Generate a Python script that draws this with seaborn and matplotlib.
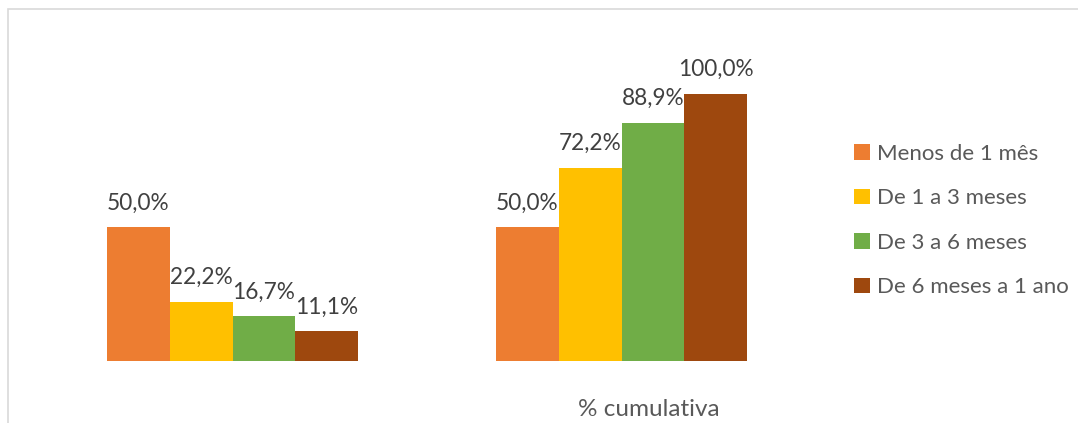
import matplotlib
matplotlib.use("Agg")
import matplotlib.pyplot as plt
import matplotlib.transforms as mtransforms
from matplotlib.patches import Rectangle
import seaborn as sns
import pandas as pd

# Data
groups = ["", "% cumulativa"]
series = ["Menos de 1 mês", "De 1 a 3 meses", "De 3 a 6 meses", "De 6 meses a 1 ano"]
values_pct = [50.0, 22.2, 16.7, 11.1]
values_cum = [50.0, 72.2, 88.9, 100.0]
colors = ["#ED7D31", "#FFC000", "#70AD47", "#9E480E"]

rows = []
for s, v in zip(series, values_pct):
    rows.append({"grupo": groups[0], "serie": s, "valor": v})
for s, v in zip(series, values_cum):
    rows.append({"grupo": groups[1], "serie": s, "valor": v})
df = pd.DataFrame(rows)

sns.set_theme(style="white")
plt.rcParams["font.family"] = ["Lato", "DejaVu Sans"]

W, H = 1078, 423
fig = plt.figure(figsize=(W / 100, H / 100), dpi=100)
ax = fig.add_axes([38 / W, (H - 361) / H, (816 - 38) / W, (361 - 40) / H])

sns.barplot(data=df, x="grupo", y="valor", hue="serie", order=groups,
            hue_order=series, palette=colors, width=0.645, gap=0,
            saturation=1, ax=ax, legend=False, linewidth=0)

ax.set_ylim(0, 120)
ax.set_xlim(-0.5, 1.5)
for sp in ax.spines.values():
    sp.set_visible(False)
ax.set_yticks([])
ax.set_xlabel("")
ax.set_ylabel("")
ax.tick_params(axis="x", length=0, pad=27, labelsize=17.5, labelcolor="#595959")

# Excel places the category label slightly right of the group centre
shift = mtransforms.ScaledTranslation(27 / 100, 0, fig.dpi_scale_trans)
for lbl in ax.get_xticklabels():
    lbl.set_transform(lbl.get_transform() + shift)

for cont in ax.containers:
    ax.bar_label(cont, labels=[f"{b.get_height():.1f}".replace(".", ",") + "%" for b in cont],
                 padding=10, fontsize=16.3, color="#404040")

handles = [Rectangle((0, 0), 1, 1, facecolor=c, edgecolor="none") for c in colors]
fig.legend(handles, series, loc="upper left", bbox_to_anchor=(834 / W, 1 - 124 / H),
           frameon=False, fontsize=16, labelcolor="#595959",
           handlelength=0.7, handleheight=0.7, handletextpad=0.35, labelspacing=1.1)

# chart border (top and left visible)
fig.add_artist(Rectangle((7.5 / W, -0.1), 1.2, 1.1 - 9.5 / H, transform=fig.transFigure,
                         fill=False, edgecolor="#D9D9D9", linewidth=1.2))

fig.savefig("out.png", dpi=100)
